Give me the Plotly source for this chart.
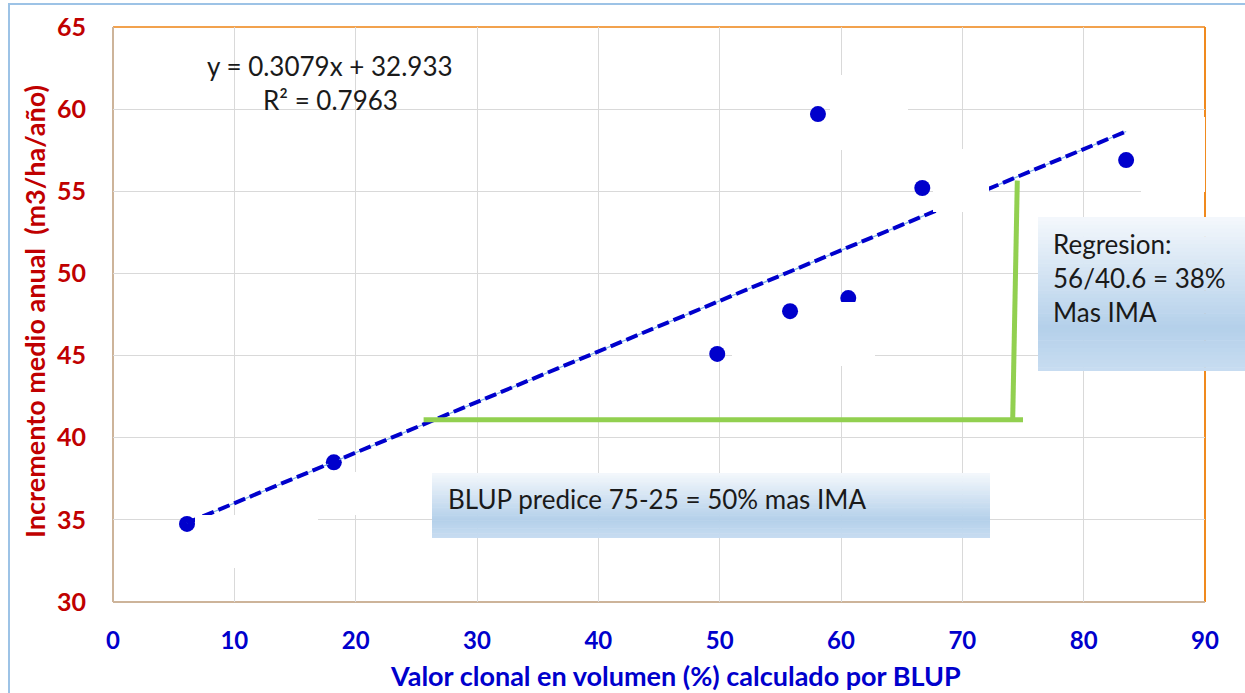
import plotly.graph_objects as go

# ---------------- data ----------------
blup_x = [6.1, 18.2, 49.8, 55.8, 60.6, 58.1, 66.7, 83.5]          # Valor clonal (%)
ima_y = [34.75, 38.5, 45.1, 47.7, 48.5, 59.7, 55.2, 56.9]          # IMA (m3/ha/año)
slope = 0.3079
intercept = 32.933
r2 = 0.7963
bracket_x = [25.6, 75.0, None, 74.15, 74.53]
bracket_y = [41.1, 41.1, None, 41.1, 55.65]
x_ticks = [0, 10, 20, 30, 40, 50, 60, 70, 80, 90]
y_ticks = [30, 35, 40, 45, 50, 55, 60, 65]

# ---------------- geometry helpers ----------------
W, H = 1245, 693
L, R, T, B = 113, 1205, 27, 602
XR = (0, 90)
YR = (30, 65)


def px2x(p):
    return XR[0] + (p - L) / (R - L) * (XR[1] - XR[0])


def px2y(p):
    return YR[1] - (p - T) / (B - T) * (YR[1] - YR[0])


def pxp(p):
    return (p - L) / (R - L)


def pyp(p):
    return (B - p) / (B - T)


trend_x = [min(blup_x), max(blup_x)]
trend_y = [slope * v + intercept for v in trend_x]

fig = go.Figure()

fig.add_trace(go.Scatter(x=blup_x, y=ima_y, mode="markers",
                         marker=dict(size=16, color="#0000CC"),
                         hoverinfo="skip", showlegend=False))
fig.add_trace(go.Scatter(x=trend_x, y=trend_y, mode="lines",
                         line=dict(color="#7FB2E5", width=1.2),
                         hoverinfo="skip", showlegend=False))
fig.add_trace(go.Scatter(x=trend_x, y=trend_y, mode="lines",
                         line=dict(color="#0000CC", width=4, dash="12px,5px"),
                         hoverinfo="skip", showlegend=False))

# white masks left by hidden data labels (pixel rectangles)
masks = [(830, 75, 908, 150), (933, 149, 989, 212), (1141, 117, 1215, 192),
         (732, 340, 875, 366), (800, 302, 875, 340), (352, 472, 430, 515),
         (195, 515, 318, 568)]
mx, my = [], []
for (x0, y0, x1, y1) in masks:
    mx += [px2x(x0), px2x(x1), px2x(x1), px2x(x0), px2x(x0), None]
    my += [px2y(y0), px2y(y0), px2y(y1), px2y(y1), px2y(y0), None]
fig.add_trace(go.Scatter(x=mx, y=my, mode="lines", fill="toself",
                         fillcolor="white", line=dict(width=0, color="white"),
                         hoverinfo="skip", showlegend=False))

fig.add_trace(go.Scatter(x=bracket_x, y=bracket_y, mode="lines",
                         line=dict(color="#92D050", width=5),
                         hoverinfo="skip", showlegend=False))

shapes = []
# plot border
shapes.append(dict(type="line", xref="paper", yref="paper", x0=0, x1=1, y0=1, y1=1,
                   line=dict(color="#F2A24E", width=2), layer="between"))
shapes.append(dict(type="line", xref="paper", yref="paper", x0=1, x1=1, y0=0, y1=1,
                   line=dict(color="#F08A1E", width=2), layer="between"))
shapes.append(dict(type="line", xref="paper", yref="paper", x0=0, x1=0, y0=0, y1=1,
                   line=dict(color="#CDB49A", width=2), layer="between"))
shapes.append(dict(type="line", xref="paper", yref="paper", x0=0, x1=1, y0=0, y1=0,
                   line=dict(color="#CDB49A", width=2), layer="between"))
# outer chart border
shapes.append(dict(type="rect", xref="paper", yref="paper",
                   x0=pxp(9), x1=pxp(1270), y0=pyp(4), y1=pyp(720),
                   line=dict(color="#9DC3E6", width=2), layer="below"))


def grad_color(t):
    stops = [(0.0, (244, 248, 252)), (0.72, (180, 208, 234)), (1.0, (200, 221, 241))]
    for (a, ca), (b, cb) in zip(stops[:-1], stops[1:]):
        if a <= t <= b:
            f = (t - a) / (b - a)
            c = [round(ca[i] + (cb[i] - ca[i]) * f) for i in range(3)]
            return "rgb(%d,%d,%d)" % tuple(c)
    return "rgb(200,221,241)"


def grad_box(x0, y0, x1, y1, n=40):
    h = (y1 - y0) / n
    for i in range(n):
        ya = y0 + i * h
        yb = ya + h + 0.6
        shapes.append(dict(type="rect", xref="paper", yref="paper",
                           x0=pxp(x0), x1=pxp(x1), y0=pyp(min(yb, y1)), y1=pyp(ya),
                           fillcolor=grad_color((i + 0.5) / n),
                           line=dict(width=0), layer="above"))


grad_box(1038, 217, 1250, 371)
grad_box(432, 473, 990, 538)

font_main = "Lato, 'Open Sans', sans-serif"
txt = "#1a1a1a"

annotations = [
    dict(text="y = %.4fx + %.3f" % (slope, intercept), xref="paper", yref="paper",
         x=pxp(330), y=pyp(66), showarrow=False, xanchor="center", yanchor="middle",
         font=dict(family=font_main, size=26, color=txt)),
    dict(text="R² = %.4f" % r2, xref="paper", yref="paper",
         x=pxp(330), y=pyp(100), showarrow=False, xanchor="center", yanchor="middle",
         font=dict(family=font_main, size=26, color=txt)),
    dict(text="Regresion:<br>56/40.6 = 38%<br>Mas IMA", xref="paper", yref="paper",
         x=pxp(1051), y=pyp(226), showarrow=False, xanchor="left", yanchor="top",
         align="left", font=dict(family=font_main, size=26, color=txt)),
    dict(text="BLUP predice 75-25 = 50% mas IMA", xref="paper", yref="paper",
         x=pxp(446), y=pyp(499), showarrow=False, xanchor="left", yanchor="middle",
         align="left", font=dict(family=font_main, size=26, color=txt)),
    dict(text="Valor clonal en volumen (%) calculado por BLUP", xref="paper", yref="paper",
         x=pxp(675), y=pyp(675), showarrow=False, xanchor="center", yanchor="middle",
         font=dict(family=font_main, size=27, color="#0000CC", weight="bold")),
    dict(text="Incremento medio anual  (m3/ha/año)", xref="paper", yref="paper",
         x=pxp(34), y=pyp(312), showarrow=False, xanchor="center", yanchor="middle",
         textangle=-90,
         font=dict(family=font_main, size=27, color="#C00000", weight="bold")),
]

fig.update_layout(
    width=W, height=H,
    margin=dict(l=L, r=W - R, t=T, b=H - B, pad=0),
    paper_bgcolor="white", plot_bgcolor="white",
    shapes=shapes, annotations=annotations, showlegend=False,
    xaxis=dict(range=list(XR), tickvals=x_ticks, showgrid=True, gridcolor="#D9D9D9",
               gridwidth=1, zeroline=False, showline=False, ticks="",
               ticklabelstandoff=22,
               tickfont=dict(family=font_main, size=24, color="#0000CC", weight="bold")),
    yaxis=dict(range=list(YR), tickvals=y_ticks, showgrid=True, gridcolor="#D9D9D9",
               gridwidth=1, zeroline=False, showline=False, ticks="",
               ticklabelstandoff=26,
               tickfont=dict(family=font_main, size=25, color="#C00000", weight="bold")),
)

fig.write_html("out.html", config={"displayModeBar": False},
               post_script="document.body.style.margin='0';")
